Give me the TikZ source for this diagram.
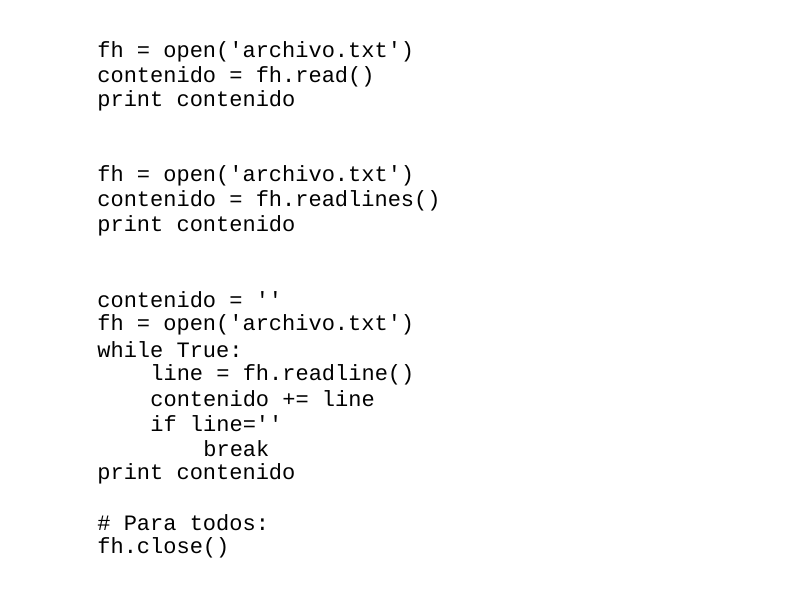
\documentclass[tikz,border=0pt]{standalone}
\usepackage{fontspec}
\setmonofont{Liberation Mono}
\tikzset{every picture/.style={line width=0.75pt}}
\tikzset{codeline/.style={anchor=west,inner sep=0pt,font=\ttfamily\fontsize{22}{24}\selectfont}}
\begin{document}
\begin{tikzpicture}[x=1pt,y=1pt,yscale=-1,xscale=1]
\useasboundingbox (0,0) rectangle (794,595);

%Lectura completa
\draw (97,52) node [codeline] (l1) {fh = open('archivo.txt')};
\draw (97,77) node [codeline] (l2) {contenido = fh.read()};
\draw (97,101) node [codeline] (l3) {print contenido};

%Lectura por lineas
\draw (97,176) node [codeline] (l4) {fh = open('archivo.txt')};
\draw (97,201) node [codeline] (l5) {contenido = fh.readlines()};
\draw (97,226) node [codeline] (l6) {print contenido};

%Bucle
\draw (97,300) node [codeline] (l7) {contenido = ''};
\draw (97,325) node [codeline] (l8) {fh = open('archivo.txt')};
\draw (97,350) node [codeline] (l9) {while True:};
\draw (150,375) node [codeline] (l10) {line = fh.readline()};
\draw (150,399) node [codeline] (l11) {contenido += line};
\draw (150,424) node [codeline] (l12) {if line=''};
\draw (203,449) node [codeline] (l13) {break};
\draw (97,474) node [codeline] (l14) {print contenido};

%Cierre
\draw (97,523) node [codeline] (l15) {\# Para todos:};
\draw (97,548) node [codeline] (l16) {fh.close()};

\end{tikzpicture}
\end{document}
